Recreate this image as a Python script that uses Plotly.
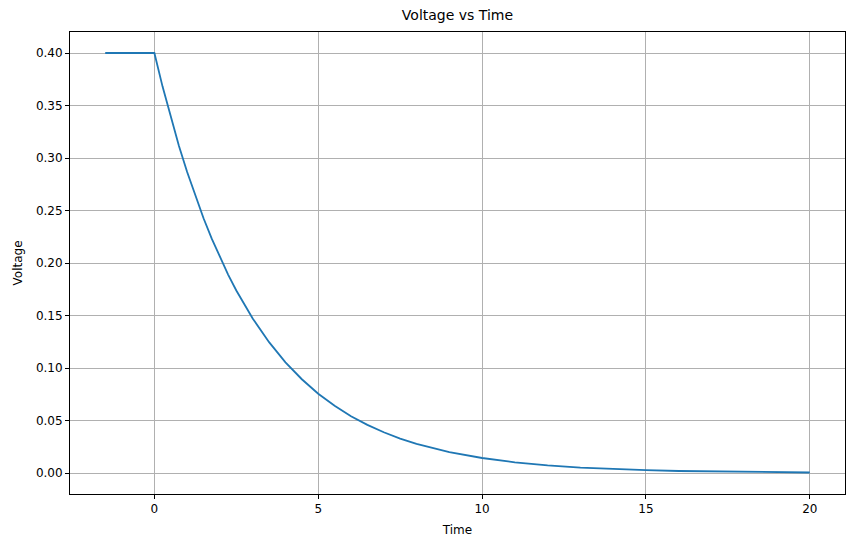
import plotly.graph_objects as go

# time samples and the voltage
time = [-1.5, 0, 0.25, 0.5, 0.75, 1, 1.25, 1.5, 1.75, 2, 2.25, 2.5, 2.75, 3, 3.5,
        4, 4.5, 5, 5.5, 6, 6.5, 7, 7.5, 8, 9, 10, 11, 12, 13, 14, 15, 16, 17,
        18, 19, 20]
voltage = [0.400, 0.400, 0.368, 0.3386, 0.3115, 0.2866, 0.2637, 0.2426, 0.2232,
           0.2054, 0.1890, 0.1738, 0.1599, 0.1472, 0.1246, 0.1054, 0.0893,
           0.0755, 0.0640, 0.0541, 0.0458, 0.0388, 0.0328, 0.0278, 0.0199,
           0.0143, 0.0102, 0.0073, 0.0052, 0.0038, 0.0027, 0.0019, 0.0014,
           0.0010, 0.0007, 0.0005]

x_ticks = [0, 5, 10, 15, 20]
y_ticks = [0.0, 0.05, 0.10, 0.15, 0.20, 0.25, 0.30, 0.35, 0.40]

font = "DejaVu Sans, sans-serif"

fig = go.Figure()
fig.add_trace(go.Scatter(x=time, y=voltage, mode="lines",
                         line=dict(color="#1f77b4", width=1.8), showlegend=False))

axis_style = dict(showline=True, linecolor="black", linewidth=1, mirror=True,
                  ticks="outside", ticklen=4, tickcolor="black",
                  showgrid=True, gridcolor="#b0b0b0", gridwidth=1,
                  zeroline=False, automargin=False,
                  tickfont=dict(family=font, size=12, color="black"))

fig.update_xaxes(range=[-2.575, 21.075], tickvals=x_ticks,
                 title=dict(text="Time", font=dict(family=font, size=12, color="black"), standoff=10),
                 **axis_style)
fig.update_yaxes(range=[-0.02, 0.42], tickvals=y_ticks, tickformat=".2f",
                 title=dict(text="Voltage", font=dict(family=font, size=12, color="black"), standoff=10),
                 **axis_style)

fig.update_layout(
    width=855, height=547,
    margin=dict(l=70, r=10, t=32, b=53),
    plot_bgcolor="white", paper_bgcolor="white",
    title=dict(text="Voltage vs Time", x=(70 + 845) / 2 / 855, xanchor="center",
               y=1 - 15 / 547, yanchor="middle",
               font=dict(family=font, size=14, color="black")),
)

# drop the default page margin so the figure sits at the window corner
fig.write_html("out.html", config={"displayModeBar": False},
               post_script="document.body.style.margin='0';document.body.style.overflow='hidden';")
